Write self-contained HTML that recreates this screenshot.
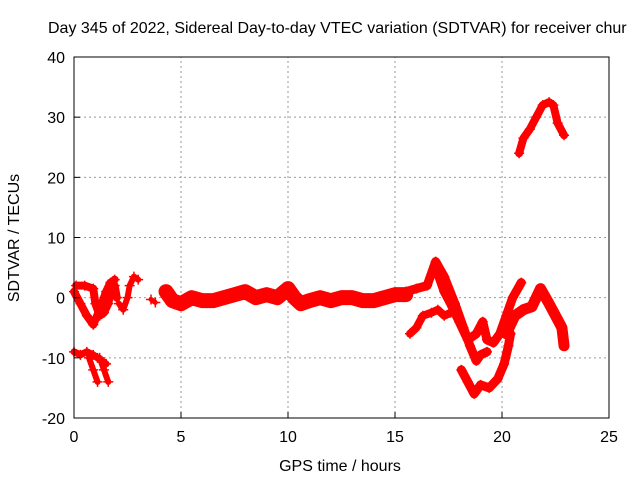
<!DOCTYPE html>
<html><head><meta charset="utf-8"><style>
body{margin:0;background:#fff}
svg{display:block;font-family:"Liberation Sans",sans-serif;font-size:16px}
</style></head><body>
<svg id="chart" width="640" height="480">
<rect width="640" height="480" fill="#fff"/>
<text x="48" y="33">Day 345 of 2022, Sidereal Day-to-day VTEC variation (SDTVAR) for receiver chur</text>
<g id="grid"></g>
<g id="series"></g>
<rect x="74" y="57" width="535" height="361" fill="none" stroke="#000" stroke-width="1"/>
<g id="ticks"></g>
<text x="340" y="471" text-anchor="middle">GPS time / hours</text>
<text transform="translate(19,238) rotate(-90)" text-anchor="middle">SDTVAR / TECUs</text>
</svg>
<script>
const xTicks=[0,5,10,15,20,25];
const yTicks=[-20,-10,0,10,20,30,40];
const a1T=[0,0.3,0.6,0.9,1.2,1.5,1.7,1.9,2.0];
const a1V=[1,-1,-3,-4.5,-2,1,2.5,2,0];
const a2T=[0.1,0.5,0.9,1.0,1.2,1.4,1.6,1.8,1.9];
const a2V=[2,2,1.5,-1,-3,-2.5,-1,2.5,3];
const a3T=[2.1,2.3,2.5,2.6,2.8,3.0];
const a3V=[-1,-2,0,2,3.5,3];
const b1T=[0,0.3,0.6,0.9,1.1,1.3,1.5];
const b1V=[-9,-9.5,-9,-9.5,-10,-10.5,-11];
const b2T=[0.7,0.9,1.1];
const b2V=[-10,-12,-14];
const b3T=[1.2,1.4,1.6];
const b3V=[-10,-12,-14];
const c0T=[3.6,3.8];
const c0V=[-0.3,-0.8];
const cT=[4.3,4.6,5,5.5,6,6.5,7,7.5,8,8.5,9,9.5,10,10.3,10.6,11,11.5,12,12.5,13,13.5,14,14.5,15,15.5];
const cV=[1,-0.5,-1,0,-0.5,-0.5,0,0.5,1,0,0.5,0,1.5,0,-1,-0.5,0,-0.5,0,0,-0.5,-0.5,0,0.5,0.5];
const d1T=[15.5,16.0,16.5,16.9,17.3,17.8,18.2,18.5,18.8,19.0,19.3];
const d1V=[1,1.5,2,6,3.5,-1,-5,-8,-10.5,-9.5,-9];
const d2T=[16.9,17.3,17.6,18.0,18.4,18.8,19.1,19.3,19.6,19.9,20.2,20.5,20.9];
const d2V=[5,1,-1,-4,-7,-6,-4,-7,-7.5,-6,-3,0,2.5];
const eT=[15.7,16.0,16.3,16.7,17.0,17.3,17.6];
const eV=[-6,-5,-3,-2.5,-2,-3,-2.5];
const fT=[18.1,18.4,18.7,19.0,19.4,19.8,20.1,20.3,20.4];
const fV=[-12,-14,-16,-14.5,-15,-13.5,-11,-8,-6];
const gT=[20.2,20.6,21.0,21.4,21.8,22.2,22.5,22.8,22.9];
const gV=[-6,-3,-2,-1.5,1.5,-1,-3,-5,-8];
const hT=[20.8,21.0,21.3,21.6,21.9,22.2,22.4,22.6,22.9];
const hV=[24,26.5,28,30,32,32.5,32,29,27];

const NS='http://www.w3.org/2000/svg';
const X0=74,X1=609,Y0=418,Y1=57;
const sx=t=>X0+(t-0)/25*(X1-X0);
const sy=v=>Y0-(v+20)/60*(Y0-Y1);
function mk(tag,at,parent){const e=document.createElementNS(NS,tag);for(const k in at)e.setAttribute(k,at[k]);parent.appendChild(e);return e;}
const grid=document.getElementById('grid'),ticks=document.getElementById('ticks'),ser=document.getElementById('series');
xTicks.forEach(t=>{
  if(t>0&&t<25){const l=mk('line',{x1:sx(t),x2:sx(t),y1:Y0,y2:Y1,stroke:'#999','stroke-dasharray':'2,3'},grid);
  
  }
  const tk=mk('line',{x1:sx(t),x2:sx(t),y1:Y0,y2:Y0-6,stroke:'#000'},ticks);
  
  
  const tx=mk('text',{x:sx(t),y:Y0+24,'text-anchor':'middle'},ticks);tx.textContent=t;
  
  
});
yTicks.forEach(v=>{
  if(v>-20&&v<40){const l=mk('line',{x1:X0,x2:X1,y1:sy(v),y2:sy(v),stroke:'#999','stroke-dasharray':'2,3'},grid);
  
  }
  const tk=mk('line',{x1:X0,x2:X0+6,y1:sy(v),y2:sy(v),stroke:'#000'},ticks);
  
  
  const tx=mk('text',{x:X0-9,y:sy(v)+6,'text-anchor':'end'},ticks);tx.textContent=v;
  
  
});
const tracks=[[a1T,a1V,8],[a2T,a2V,8],[a3T,a3V,6],[b1T,b1V,7],[b2T,b2V,6],[b3T,b3V,6],[c0T,c0V,5],[cT,cV,15],[d1T,d1V,9],[d2T,d2V,9],[eT,eV,8],[fT,fV,9],[gT,gV,11],[hT,hV,8]];
tracks.forEach(([T,V,w])=>{
  const pts=T.map((t,i)=>sx(t)+','+sy(V[i])).join(' ');
  const pl=mk('polyline',{points:pts,fill:'none',stroke:'#f00','stroke-width':w,'stroke-linejoin':'round','stroke-linecap':'round'},ser);
  
  
  T.forEach((t,i)=>{
    const x=sx(t),y=sy(V[i]);
    const p=mk('path',{d:`M${x-5},${y}H${x+5}M${x},${y-5}V${y+5}`,stroke:'#f00','stroke-width':1.5},ser);
    
    
  });
});
</script>
</body></html>
